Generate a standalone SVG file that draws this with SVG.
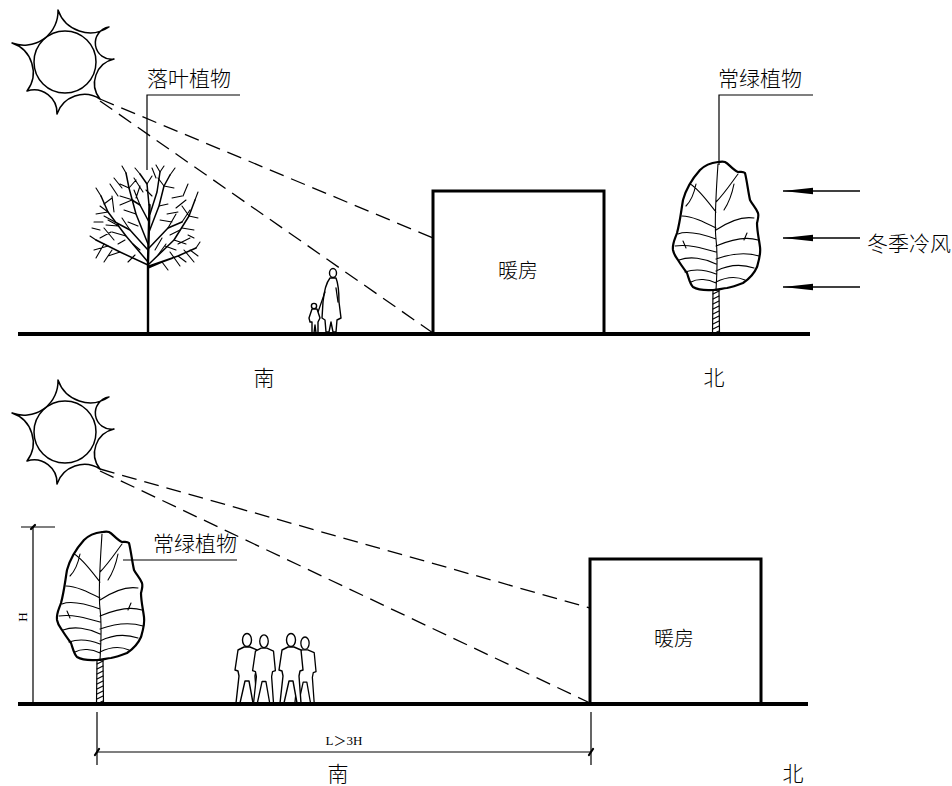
<svg xmlns="http://www.w3.org/2000/svg" xmlns:xlink="http://www.w3.org/1999/xlink" width="952" height="786" viewBox="0 0 952 786">
  <style>
    .ink { fill: none; stroke: #000; stroke-linecap: round; stroke-linejoin: round; }
    .ground { stroke: #000; stroke-width: 4; }
    .house { fill: #fff; stroke: #000; stroke-width: 3; }
    .ray { fill: none; stroke: #000; stroke-width: 1.3; stroke-dasharray: 15 8; }
    .thin { fill: none; stroke: #000; stroke-width: 1.2; }
    .wind { fill: none; stroke: #000; stroke-width: 1.3; }
    .cjk { font-family: "Noto Sans CJK SC", "Noto Sans", sans-serif; fill: #000; font-weight: 300; }
    .lbl { font-size: 21px; }
    .dir { font-size: 21px; }
    .dim { font-family: "Liberation Serif", "Noto Sans CJK SC", serif; font-size: 13px; fill: #000; }
    .person { fill: #fff; stroke: #000; stroke-width: 1.4; stroke-linejoin: round; stroke-linecap: round; }
  </style>
  <defs>
    <marker id="head" markerUnits="userSpaceOnUse" markerWidth="32" markerHeight="8" refX="30" refY="4" orient="auto">
      <path d="M30,4 L0,0.8 L0,7.2 Z" fill="#000"/>
    </marker>
    <!-- sun: circle inside a seven-point scalloped ring -->
    <g id="sun">
      <circle cx="65" cy="62" r="31" class="ink" stroke-width="1.5"/>
      <path class="ink" stroke-width="1.5" d="M58,10 A34,34 0 0 0 109,27 A16,16 0 0 0 114,59 A25,25 0 0 0 100,99 A29,29 0 0 0 57,114 A23,23 0 0 0 27,91 A31,31 0 0 0 12,43 A34,34 0 0 0 58,10 Z"/>
    </g>
    <!-- evergreen tree, origin at trunk base -->
    <g id="evergreen">
      <path class="ink" stroke-width="2.2" d="M2,-172 C-6,-171 -12,-168 -16,-164 C-24,-155 -30,-145 -33,-134 C-35,-122 -36,-112 -39,-101 C-41,-95 -44,-90 -43,-84 C-42,-79 -40,-77 -38,-74 C-35,-69 -32,-65 -29,-61 C-27,-55 -26,-50 -23,-47 C-16,-43 -9,-44 -3,-44 C3,-44 7,-46 11,-46 C17,-47 22,-49 27,-51 C33,-55 38,-60 41,-67 C43,-74 45,-80 44,-87 C43,-95 41,-103 41,-111 C42,-115 43,-118 42,-121 C40,-126 36,-130 34,-134 C32,-143 31,-153 29,-161 C27,-163 24,-162 22,-162 C17,-164 13,-170 9,-172 C6,-173 4,-172 2,-172 Z"/>
      <path class="ink" stroke-width="1.1" d="M2,-170 C0,-140 -2,-112 0,-95 C2,-78 1,-60 0,-44 M0,-122 C-8,-132 -18,-146 -26,-150 M0,-106 C-12,-112 -24,-118 -34,-118 M0,-95 C-14,-100 -28,-104 -38,-100 M0,-82 C-14,-86 -28,-90 -41,-88 M0,-70 C-12,-76 -26,-78 -37,-74 M0,-60 C-10,-64 -22,-65 -31,-62 M0,-51 C-8,-55 -18,-56 -25,-52 M0,-132 C8,-140 16,-152 22,-160 M0,-104 C12,-112 26,-118 38,-116 M0,-88 C14,-94 30,-98 42,-94 M0,-75 C14,-80 30,-82 43,-78 M0,-63 C12,-69 26,-70 38,-66 M0,-52 C10,-57 20,-58 29,-54 M-20,-150 C-22,-140 -26,-132 -30,-128 M18,-150 C16,-140 12,-130 8,-124 M-30,-86 L-33,-93 M28,-94 L31,-101"/>
      <path class="ink" stroke-width="1.2" d="M-3,-44 L-3.5,0 M3,-44 L3.5,0"/>
      <path class="ink" stroke-width="1.1" d="M-3,-40 L3,-43 M-3,-35 L3,-38 M-3,-30 L3,-33 M-3,-25 L3,-28 M-3,-20 L3,-23 M-3,-15 L3,-18 M-3,-10 L3,-13 M-3,-5 L3,-8 M-3,0 L3,-3"/>
    </g>
    <!-- standing figure, origin at feet -->
    <g id="figure">
      <ellipse cx="0" cy="-63" rx="4.5" ry="6.5" class="person"/>
      <path class="person" d="M-3,-56 L-9,-53 L-12,-33 L-9,-32 L-8,-27 L-11,0 L-7,0 L-2,-22 L2,-22 L6,0 L10,0 L8,-27 L9,-32 L12,-33 L10,-53 L3,-56 Z"/>
    </g>
  </defs>

  <rect width="952" height="786" fill="#fff"/>

  <!-- ===================== winter section ===================== -->
  <g id="sun-top"><use xlink:href="#sun"/></g>

  <g id="deciduous-tree">
    <path class="ink" stroke-width="2.4" d="M148,334 L148,262 L149.5,205"/>
    <path class="ink" stroke-width="1.5" d="M148,262 L126,236 L108,212 L101,196 M148,265 L120,252 L96,240 M148,268 L162,262 L173,258 M149,264 L174,240 L189,216 L195,200 M149,266 L178,256 L196,248 M148,244 L136,214 L129,188 L126,173 M149,232 L159,206 L164,186 L170,175 M149,205 L147,184 L140,174 M150,214 L157,192 L160,172 M149,222 L140,205 L132,200 M148,250 L130,230 L115,222 M149,248 L168,228 L182,222"/>
    <path class="ink" stroke-width="1.1" d="M126,236 L112,232 M118,226 L106,225 M108,212 L96,214 M108,212 L100,206 M101,196 L96,188 M104,204 L112,198 M120,252 L108,256 M108,246 L94,250 M96,240 L90,236 M114,240 L104,228 M162,262 L168,270 M174,240 L186,244 M182,228 L194,230 M189,216 L198,218 M195,200 L198,192 M189,216 L182,206 M178,256 L186,262 M190,250 L198,256 M196,248 L200,242 M136,214 L124,210 M133,200 L120,196 M129,188 L120,184 M126,173 L122,166 M129,188 L136,180 M159,206 L168,204 M164,186 L174,188 M170,175 L175,168 M164,186 L158,178 M140,174 L135,168 M147,184 L152,176 M160,172 L156,165 M160,172 L164,166 M140,205 L134,190 M132,200 L120,205 M170,235 L180,230 M165,246 L176,250 M155,250 L162,238 M135,255 L128,262 M160,220 L172,222 M117,225 L108,220 M188,235 L194,238 M103,222 L94,222 M100,230 L92,228 M115,222 L104,216 M130,230 L122,218 M182,222 L190,210 M168,228 L176,214 M114,212 L112,196 M118,196 L110,184 M122,188 L114,178 M136,198 L140,186 M138,226 L128,222 M172,198 L182,196 M176,208 L186,200 M183,196 L188,184 M152,196 L146,190 M143,192 L134,178 M156,178 L152,168 M167,214 L178,212 M111,232 L100,238 M104,244 L96,258 M112,250 L104,262 M178,244 L190,238 M184,250 L194,262 M170,252 L180,266 M125,240 L118,244 M140,250 L133,244 M158,255 L166,244"/>
  </g>

  <g id="woman-child">
    <ellipse cx="333" cy="273" rx="3.5" ry="4.5" class="person"/>
    <path class="person" d="M330,278 C326,283 324,292 323,302 L322,318 L325,320 L326,332 L329,332 L331,322 L333,332 L336,332 L337,320 L341,318 L339,302 C339,292 338,283 336,278 Z"/>
    <path class="ink" stroke-width="1.3" d="M325,292 L318,312 M336,288 L338,302"/>
    <circle cx="314" cy="306" r="2.6" class="person"/>
    <path class="person" d="M312,309 L309,318 L310,322 L312,322 L312,333 L314,333 L315,325 L316,333 L318,333 L318,322 L320,318 L317,309 Z"/>
  </g>

  <g id="house-top">
    <rect x="433" y="191" width="171" height="143" class="house"/>
    <text x="518" y="278" text-anchor="middle" class="cjk" font-size="20">暖房</text>
  </g>

  <g id="evergreen-top"><use xlink:href="#evergreen" transform="translate(716,334)"/></g>

  <g id="ground-top"><line x1="18" y1="334" x2="810" y2="334" class="ground"/></g>

  <g id="labels-top">
    <text x="147" y="86" class="cjk lbl">落叶植物</text>
    <text x="718" y="86" class="cjk lbl">常绿植物</text>
    <text x="867" y="251" class="cjk lbl">冬季冷风</text>
    <text x="264" y="385" text-anchor="middle" class="cjk dir">南</text>
    <text x="714" y="385" text-anchor="middle" class="cjk dir">北</text>
  </g>

  <!-- ===================== summer section ===================== -->
  <g id="sun-bottom"><use xlink:href="#sun" transform="translate(0,370)"/></g>

  <g id="evergreen-bottom"><use xlink:href="#evergreen" transform="translate(100,704)"/></g>

  <g id="people-group">
    <use xlink:href="#figure" transform="translate(247,703)"/>
    <use xlink:href="#figure" transform="translate(264,703) scale(0.95,0.98)"/>
    <use xlink:href="#figure" transform="translate(305,703) scale(0.92,0.95)"/>
    <use xlink:href="#figure" transform="translate(291,703)"/>
  </g>

  <g id="house-bottom">
    <rect x="590" y="559" width="171" height="145" class="house"/>
    <text x="674" y="646" text-anchor="middle" class="cjk" font-size="20">暖房</text>
  </g>

  <g id="ground-bottom"><line x1="18" y1="704" x2="808" y2="704" class="ground"/></g>

  <g id="labels-bottom">
    <text x="153" y="551" class="cjk lbl">常绿植物</text>
    <text x="0" y="0" class="dim" text-anchor="middle" transform="translate(27,617) rotate(-90)">H</text>
    <text x="344" y="745" class="dim" text-anchor="middle">L＞3H</text>
    <text x="338" y="781" text-anchor="middle" class="cjk dir">南</text>
    <text x="793" y="781" text-anchor="middle" class="cjk dir">北</text>
  </g>

  <!-- ===================== connectors ===================== -->
  <g id="connectors">
    <!-- sun rays -->
    <path class="ray" d="M100,99 L433,238"/>
    <path class="ray" d="M100,101 L433,333"/>
    <path class="ray" d="M100,469 L590,608"/>
    <path class="ray" d="M100,471 L590,703"/>
    <!-- label leaders -->
    <path class="thin" d="M147,170 L147,95 L240,95"/>
    <path class="thin" d="M719,165 L719,95 L813,95"/>
    <path class="thin" d="M123,560 L237,560"/>
    <!-- winter wind -->
    <line x1="860" y1="191" x2="783" y2="191" class="wind" marker-end="url(#head)"/>
    <line x1="860" y1="238" x2="783" y2="238" class="wind" marker-end="url(#head)"/>
    <line x1="860" y1="287" x2="783" y2="287" class="wind" marker-end="url(#head)"/>
    <!-- height dimension -->
    <path class="thin" d="M33,527 L33,704 M21,527 L55,527"/>
    <path class="ink" stroke-width="2.2" d="M31,529 L35,525"/>
    <!-- spacing dimension -->
    <path class="thin" d="M97,712 L97,765 M591,712 L591,765 M97,752 L591,752"/>
    <path class="ink" stroke-width="2.2" d="M95,755 L99,749 M589,755 L593,749"/>
  </g>
</svg>
